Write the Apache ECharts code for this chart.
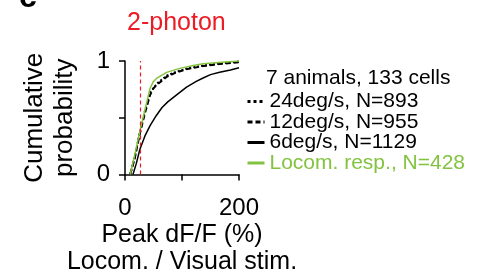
<!DOCTYPE html>
<html>
<head>
<meta charset="utf-8">
<script src="https://cdn.jsdelivr.net/npm/echarts@6/dist/echarts.min.js"></script>
<style>
html, body { margin: 0; padding: 0; background: #fff; }
#chart { width: 478px; height: 278px; }
</style>
</head>
<body>
<div id="chart"></div>
<script>
// 数据 (Peak dF/F %, cumulative probability)
var names = ["24deg/s, N=893", "12deg/s, N=955", "6deg/s, N=1129", "Locom. resp., N=428"];

var x24 = [9, 17, 26, 35, 44, 56, 73, 90, 110, 137, 170, 200];
var y24 = [0, 0.15, 0.37, 0.56, 0.72, 0.80, 0.87, 0.905, 0.935, 0.96, 0.98, 0.995];

var x12 = [9, 17, 26, 35, 44, 50, 56, 73, 90, 110, 137, 170, 200];
var y12 = [0, 0.14, 0.36, 0.54, 0.70, 0.76, 0.79, 0.86, 0.90, 0.93, 0.955, 0.975, 0.99];

var x6 = [14, 20, 26, 35, 44, 55, 65, 75, 90, 108, 125, 137, 150, 166, 185, 200];
var y6 = [0, 0.10, 0.22, 0.34, 0.43, 0.52, 0.59, 0.64, 0.70, 0.77, 0.82, 0.85, 0.88, 0.90, 0.92, 0.94];

var xLoc = [9, 17, 26, 35, 44, 50, 56, 73, 96, 120, 137, 170, 200];
var yLoc = [0, 0.17, 0.38, 0.57, 0.76, 0.82, 0.85, 0.90, 0.935, 0.96, 0.975, 0.99, 1.0];

var threshold = 27;
var xTicks = [0, 200];
var yTicks = [0, 1];

function pairs (xs, ys) {
	var out = [];
	for (var i = 0; i < xs.length; i++) {
		out.push([xs[i], ys[i]]);
	}
	return out;
}

var green = "#84c341";
var font = "Liberation Sans, Arial, sans-serif";

var cc = echarts.init(document.getElementById("chart"));

var op = {
	animation: false,
	title: {
		text: "2-photon",
		left: 122,
		top: 6,
		textStyle: { color: "#ec1c24", fontSize: 25, fontWeight: "normal", fontFamily: font }
	},
	graphic: [
		{
			type: "text", left: 19, top: -18,
			style: { text: "c", font: "bold 32px " + font, fill: "#000" }
		},
		{
			type: "text", left: 266, top: 68,
			style: { text: "7 animals, 133 cells", font: "21px " + font, fill: "#000" }
		}
	],
	legend: {
		orient: "vertical",
		left: 241,
		top: 86,
		itemWidth: 17,
		itemHeight: 10,
		itemGap: -0.5,
		itemStyle: { opacity: 0 },	// 只显示线, 不显示圆点
		lineStyle: { width: 3 },
		textStyle: { fontSize: 21, fontFamily: font, color: "#000" },
		data: [
			{ name: names[0] },
			{ name: names[1] },
			{ name: names[2] },
			{ name: names[3], textStyle: { color: green } }
		]
	},
	grid: { left: 125, top: 61, width: 114, height: 113.5 },
	xAxis: {
		type: "value",
		min: 0,
		max: 200,
		interval: 100,
		name: "Peak dF/F (%)\nLocom. / Visual stim.",
		nameLocation: "middle",
		nameGap: 47,
		nameTextStyle: { fontSize: 25, fontFamily: font, color: "#000", lineHeight: 27 },
		axisLine: { lineStyle: { color: "#000", width: 1.5 } },
		axisTick: { length: 6, lineStyle: { color: "#000", width: 1.5 } },
		axisLabel: {
			margin: 22,
			fontSize: 24,
			fontFamily: font,
			color: "#000",
			formatter: function (v) { return xTicks.indexOf(v) >= 0 ? String(v) : ""; }
		},
		splitLine: { show: false }
	},
	yAxis: {
		type: "value",
		min: 0,
		max: 1,
		interval: 0.5,
		name: "Cumulative\nprobability",
		nameLocation: "middle",
		nameRotate: 90,
		nameGap: 45,
		nameTextStyle: { fontSize: 26, fontFamily: font, color: "#000", lineHeight: 30 },
		axisLine: { show: true, lineStyle: { color: "#000", width: 1.5 } },
		axisTick: { show: true, length: 6, lineStyle: { color: "#000", width: 1.5 } },
		axisLabel: {
			margin: 15,
			fontSize: 24,
			fontFamily: font,
			color: "#000",
			formatter: function (v) { return yTicks.indexOf(v) >= 0 ? String(v) : ""; }
		},
		splitLine: { show: false }
	},
	series: [
		{
			name: names[0],
			type: "line",
			symbol: "none",
			data: pairs(x24, y24),
			lineStyle: { color: "#000", width: 2, type: "dotted" },
			itemStyle: { color: "#000" }
		},
		{
			name: names[1],
			type: "line",
			symbol: "none",
			data: pairs(x12, y12),
			lineStyle: { color: "#000", width: 2, type: [5, 3] },
			itemStyle: { color: "#000" }
		},
		{
			name: names[2],
			type: "line",
			symbol: "none",
			data: pairs(x6, y6),
			lineStyle: { color: "#000", width: 1.5 },
			itemStyle: { color: "#000" }
		},
		{
			name: names[3],
			type: "line",
			symbol: "none",
			data: pairs(xLoc, yLoc),
			lineStyle: { color: green, width: 1.5 },
			itemStyle: { color: green },
			markLine: {	// 阈值虚线
				silent: true,
				symbol: "none",
				label: { show: false },
				lineStyle: { color: "#ec1c24", type: [4, 3], width: 1.2 },
				data: [{ xAxis: threshold }]
			}
		}
	]
};

cc.setOption(op);
</script>
</body>
</html>
